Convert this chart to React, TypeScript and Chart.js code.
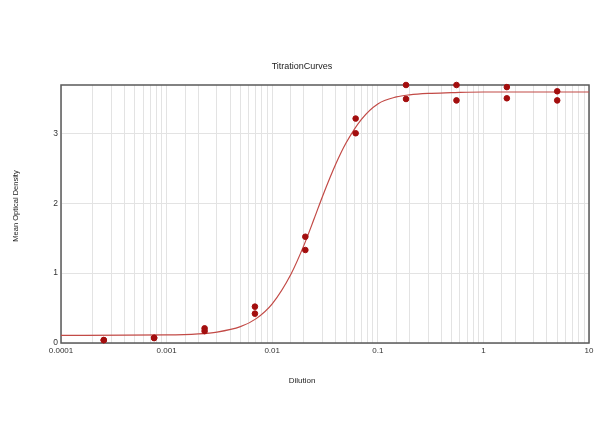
import React, { useEffect, useRef } from "react";
import { Chart, registerables } from "chart.js";

Chart.register(...registerables);

const chartTitle = "TitrationCurves";
const xAxisTitle = "Dilution";
const yAxisTitle = "Mean Optical Density";

// measured dilutions (two replicates each)
const dilutions = [0.000254, 0.000762, 0.00229, 0.00686, 0.0206, 0.0617, 0.185, 0.556, 1.667, 5];
const replicateA = [0.043, 0.076, 0.21, 0.52, 1.52, 3.21, 3.69, 3.69, 3.66, 3.6];
const replicateB = [0.04, 0.07, 0.17, 0.42, 1.33, 3.0, 3.49, 3.47, 3.5, 3.47];

// fitted curve
const curveX = [0.0001, 0.001, 0.002, 0.003, 0.005, 0.007, 0.01, 0.015, 0.02, 0.025, 0.03, 0.04, 0.05, 0.07, 0.1, 0.15, 0.2, 0.3, 0.5, 1, 10];
const curveY = [0.11, 0.115, 0.13, 0.156, 0.234, 0.345, 0.56, 0.98, 1.4, 1.78, 2.1, 2.56, 2.86, 3.2, 3.42, 3.52, 3.55, 3.57, 3.58, 3.59, 3.59];

const xDecadeTicks = [0.0001, 0.001, 0.01, 0.1, 1, 10];
const xTickLabels = ["0.0001", "0.001", "0.01", "0.1", "1", "10"];
const yTickValues = [0, 1, 2, 3];

const FONT = "'Liberation Sans', Arial, sans-serif";

export default function App() {
  const ref = useRef<HTMLCanvasElement | null>(null);

  useEffect(() => {
    if (!ref.current) return;
    const pts: { x: number; y: number }[] = [];
    dilutions.forEach((d, i) => {
      pts.push({ x: d, y: replicateA[i] });
      pts.push({ x: d, y: replicateB[i] });
    });
    const curve = curveX.map((x, i) => ({ x, y: curveY[i] }));

    const framePlugin = {
      id: "framePlugin",
      beforeDatasetsDraw(chart: any) {
        const { ctx, chartArea } = chart;
        ctx.save();
        ctx.strokeStyle = "#5a5a5a";
        ctx.lineWidth = 1.5;
        ctx.strokeRect(chartArea.left, chartArea.top, chartArea.right - chartArea.left, chartArea.bottom - chartArea.top);
        ctx.restore();
      },
      afterDraw(chart: any) {
        const { ctx } = chart;
        ctx.save();
        ctx.fillStyle = "#222";
        ctx.textAlign = "center";
        ctx.textBaseline = "middle";
        ctx.font = `9px ${FONT}`;
        ctx.fillText(chartTitle, 302, 67);
        ctx.font = `8px ${FONT}`;
        ctx.fillText(xAxisTitle, 302, 381);
        ctx.translate(16, 206);
        ctx.rotate(-Math.PI / 2);
        ctx.font = `7.5px ${FONT}`;
        ctx.fillText(yAxisTitle, 0, 0);
        ctx.restore();
      },
    };

    const chart = new Chart(ref.current, {
      type: "scatter",
      data: {
        datasets: [
          {
            label: "fit",
            data: curve,
            showLine: true,
            borderColor: "#c24a46",
            borderWidth: 1.2,
            pointRadius: 0,
            cubicInterpolationMode: "monotone",
            order: 2,
          } as any,
          {
            label: "data",
            data: pts,
            backgroundColor: "#a30e0e",
            borderColor: "#a30e0e",
            pointRadius: 2.8,
            clip: false,
            order: 1,
          } as any,
        ],
      },
      options: {
        animation: false,
        responsive: false,
        devicePixelRatio: 1,
        layout: { padding: { top: 85, right: 11, left: 0, bottom: 0 } },
        plugins: { legend: { display: false }, tooltip: { enabled: false }, title: { display: false } },
        scales: {
          x: {
            type: "logarithmic",
            min: 0.0001,
            max: 10,
            afterFit: (s: any) => {
              s.height = 104;
            },
            border: { display: false },
            grid: {
              color: "#e3e3e3",
              lineWidth: 1,
              drawTicks: false,
            },
            ticks: {
              autoSkip: false,
              maxRotation: 0,
              padding: 3,
              color: "#333",
              font: { family: FONT, size: 8 },
              callback: (v: any) => {
                const idx = xDecadeTicks.findIndex((d) => Math.abs(Number(v) - d) / d < 1e-6);
                return idx >= 0 ? xTickLabels[idx] : "";
              },
            },
          },
          y: {
            type: "linear",
            min: 0,
            max: 3.69,
            afterFit: (s: any) => {
              s.width = 61;
            },
            afterBuildTicks: (s: any) => {
              s.ticks = yTickValues.map((v) => ({ value: v }));
            },
            border: { display: false },
            grid: { color: "#e3e3e3", drawTicks: false },
            ticks: {
              padding: 3,
              color: "#333",
              font: { family: FONT, size: 8.5 },
              callback: (v: any) => String(v),
            },
          },
        },
      },
      plugins: [framePlugin],
    });
    return () => chart.destroy();
  }, []);

  return (
    <div style={{ position: "fixed", left: 0, top: 0, width: 600, height: 447, background: "#fff" }}>
      <canvas ref={ref} width={600} height={447} />
    </div>
  );
}
